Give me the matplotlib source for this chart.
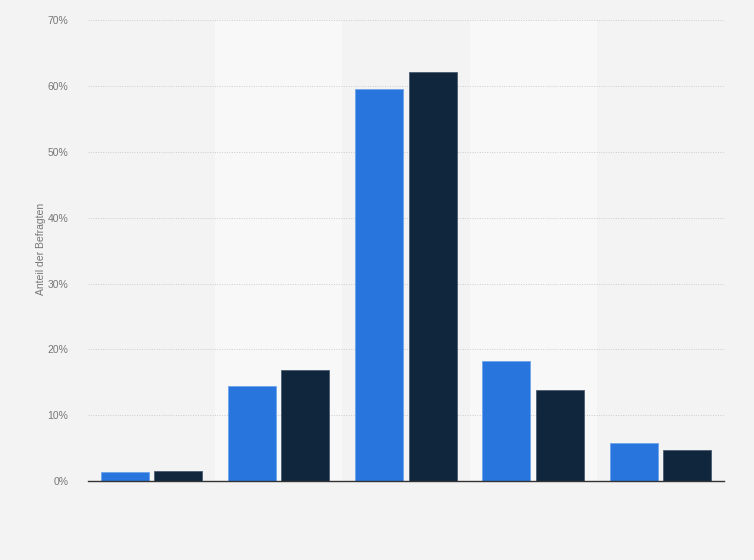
import numpy as np
import matplotlib
matplotlib.use('Agg')
import matplotlib.pyplot as plt
from matplotlib.ticker import FuncFormatter

plt.rcParams['font.family'] = ['Liberation Sans', 'DejaVu Sans']

# data
categories = ['1', '2', '3', '4', '5']
blue_vals = [1.3, 14.5, 59.6, 18.3, 5.8]
dark_vals = [1.5, 16.9, 62.2, 13.8, 4.7]
yticks = [0, 10, 20, 30, 40, 50, 60, 70]

bg = '#f3f3f3'
fig = plt.figure(figsize=(7.54, 5.6), dpi=100, facecolor=bg)
ax = fig.add_axes([0.1167, 0.141, 0.8433, 0.823])
ax.set_facecolor(bg)

x = np.arange(len(categories))
w = 0.377
off = 0.21

# alternating lighter bands
for i in x:
    if i % 2 == 1:
        ax.axvspan(i - 0.5, i + 0.5, color='#f8f8f8', zorder=0, lw=0)

ax.bar(x - off, blue_vals, w, color='#2876dd', edgecolor='#6fa3ea', linewidth=0.6, zorder=3)
ax.bar(x + off, dark_vals, w, color='#10263d', edgecolor='#4a5c70', linewidth=0.6, zorder=3)

ax.set_xlim(-0.5, len(categories) - 0.5)
ax.set_ylim(0, 70)
ax.set_yticks(yticks)
ax.yaxis.set_major_formatter(FuncFormatter(lambda v, p: '%d%%' % v))
ax.set_xticks([])
ax.tick_params(axis='y', length=0, labelsize=7.5, labelcolor='#777777', pad=14)

ax.grid(axis='y', color='#cccccc', linestyle=(0, (1, 1.5)), linewidth=0.7, zorder=1)
for s in ['top', 'right', 'left']:
    ax.spines[s].set_visible(False)
ax.spines['bottom'].set_color('#333333')
ax.spines['bottom'].set_linewidth(1.0)
ax.spines['bottom'].set_zorder(4)

fig.text(0.054, 0.555, 'Anteil der Befragten', rotation=90, fontsize=7.5,
         color='#777777', ha='center', va='center')

fig.savefig('out.png', dpi=100, facecolor=bg)
